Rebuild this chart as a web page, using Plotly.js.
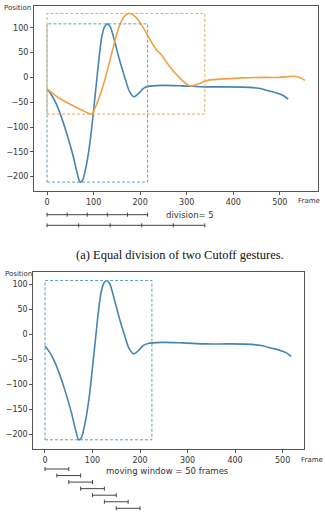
<!DOCTYPE html>
<html>
<head>
<meta charset="utf-8">
<script src="https://cdn.plot.ly/plotly-3.0.1.min.js"></script>
<style>html,body{margin:0;padding:0;background:#fff}#chart{width:325px;height:519px}</style>
</head>
<body>
<div id="chart"></div>
<script>
// ---- data ----
const blueFrames = [0,10,20,30,42,56,64,71,76,82,88,94,100,106,112,118,124,130,136,146,156,167,177,187,197,207,217,246,290,339,390,435,455,475,495,508,518];
const blueValues = [-23,-36,-54,-78,-112,-158,-190,-211,-208,-188,-158,-118,-66,-12,42,84,103,108,102,70,34,0,-28,-39,-32,-22,-18,-16,-17,-19,-19,-20,-22,-27,-32,-37,-44];
const orangeFrames = [0,28,56,80,96,103,110,120,128,135,142,150,160,168,175,182,190,200,210,221,235,246,257,270,282,295,307,320,335,350,380,420,470,500,520,535,545,554];
const orangeValues = [-23,-43,-57,-68,-74,-62,-46,-18,8,34,60,88,114,125,129,128,122,110,95,76,56,45,30,14,2,-10,-17,-15,-9,-5,-3,-1,0,0,2,2,-1,-6];
const segmentEnds = [216, 339];      // top chart: blue gesture, orange gesture
const divisionCount = 5;
const bottomSegmentEnd = 225;
const windowSize = 50;
const windowStep = 25;
const windowCount = 7;
const xTickVals = [0,100,200,300,400,500];
const yTickVals = [-200,-150,-100,-50,0,50,100];
const labels = {
  yTitle: 'Position', xTitle: 'Frame',
  division: 'division= 5',
  moving: 'moving window = 50 frames',
  caption: '(a) Equal division of two Cutoff gestures.'
};

// ---- styles ----
const W = 325, H = 519;
const BLUE = '#4684b3', ORANGE = '#f3a045';
const BLUE_BOX = '#5e9fba', ORANGE_BOX = '#eca65a';
const BAR = '#444';
const px = v => v / W;
const py = v => 1 - v / H;

function segBox(frames, values, end) {
  let mn = Infinity, mx = -Infinity;
  frames.forEach((f, i) => { if (f <= end) { mn = Math.min(mn, values[i]); mx = Math.max(mx, values[i]); } });
  return [mn, mx];
}

const shapes = [];
function addBox(xa, ya, end, range, color) {
  shapes.push({type:'rect', xref:xa, yref:ya, x0:0, x1:end, y0:range[0], y1:range[1],
    line:{color:color, width:1, dash:'3px,2px'}, fillcolor:'rgba(0,0,0,0)'});
}
function addBar(xa, x0, x1, yPix, ticks) {
  shapes.push({type:'line', xref:xa, yref:'paper', x0:x0, x1:x1, y0:py(yPix), y1:py(yPix), line:{color:BAR, width:1}});
  ticks.forEach(t => shapes.push({type:'line', xref:xa, yref:'paper', x0:t, x1:t, y0:py(yPix-2), y1:py(yPix+2), line:{color:BAR, width:1}}));
}

addBox('x', 'y', segmentEnds[0], segBox(blueFrames, blueValues, segmentEnds[0]), BLUE_BOX);
addBox('x', 'y', segmentEnds[1], segBox(orangeFrames, orangeValues, segmentEnds[1]), ORANGE_BOX);
addBox('x2', 'y2', bottomSegmentEnd, segBox(blueFrames, blueValues, bottomSegmentEnd), BLUE_BOX);

const divRowsPix = [214.7, 225.3];
segmentEnds.forEach((end, r) => {
  const ticks = [];
  for (let k = 0; k <= divisionCount; k++) ticks.push(end * k / divisionCount);
  addBar('x', 0, end, divRowsPix[r], ticks);
});
for (let k = 0; k < windowCount; k++) {
  const s = k * windowStep;
  addBar('x2', s, s + windowSize, 469 + k * 6.55, [s, s + windowSize]);
}

const lineStyle = c => ({color:c, width:1.6, shape:'spline', smoothing:0.8});
const traces = [
  {x: blueFrames, y: blueValues, xaxis:'x', yaxis:'y', mode:'lines', line: lineStyle(BLUE), hoverinfo:'skip'},
  {x: orangeFrames, y: orangeValues, xaxis:'x', yaxis:'y', mode:'lines', line: lineStyle(ORANGE), hoverinfo:'skip'},
  {x: blueFrames, y: blueValues, xaxis:'x2', yaxis:'y2', mode:'lines', line: lineStyle(BLUE), hoverinfo:'skip'}
];

const axBase = {
  showgrid:false, zeroline:false, showline:true, mirror:true, linecolor:'#555', linewidth:1,
  ticks:'outside', ticklen:3, tickcolor:'#555', tickwidth:1,
  tickfont:{family:'DejaVu Sans', size:8, color:'#333'}, automargin:false, fixedrange:true
};
const layout = {
  width: W, height: H, margin:{l:0, r:0, t:0, b:0},
  paper_bgcolor:'#fff', plot_bgcolor:'#fff', showlegend:false,
  xaxis: Object.assign({}, axBase, {domain:[px(34), px(318)], range:[-28, 582], tickvals:xTickVals, anchor:'y'}),
  yaxis: Object.assign({}, axBase, {domain:[py(191), py(6)], range:[-229, 144], tickvals:yTickVals, anchor:'x'}),
  xaxis2: Object.assign({}, axBase, {domain:[px(33.3), px(303.5)], range:[-24.6, 544], tickvals:xTickVals, anchor:'y2'}),
  yaxis2: Object.assign({}, axBase, {domain:[py(449.3), py(272.3)], range:[-230, 124.4], tickvals:yTickVals, anchor:'x2'}),
  shapes: shapes,
  annotations: [
    {text: labels.yTitle, x: px(17.5), y: py(8), font:{size:7}},
    {text: labels.xTitle, x: px(309), y: py(201), font:{size:7}},
    {text: labels.division, x: px(189.5), y: py(214.7), font:{size:8.5}},
    {text: labels.caption, x: px(180), y: py(255), font:{family:'Liberation Serif', size:12.5, color:'#111'}},
    {text: labels.yTitle, x: px(18.5), y: py(274), font:{size:7}},
    {text: labels.xTitle, x: px(312), y: py(460), font:{size:7}},
    {text: labels.moving, x: px(167.5), y: py(470.7), font:{size:8.5}}
  ].map(a => Object.assign({xref:'paper', yref:'paper', showarrow:false, xanchor:'center', yanchor:'middle'}, a, {
    font: Object.assign({family:'DejaVu Sans', color:'#333'}, a.font)
  }))
};
Plotly.newPlot('chart', traces, layout, {displayModeBar:false, staticPlot:true});
</script>
</body>
</html>
